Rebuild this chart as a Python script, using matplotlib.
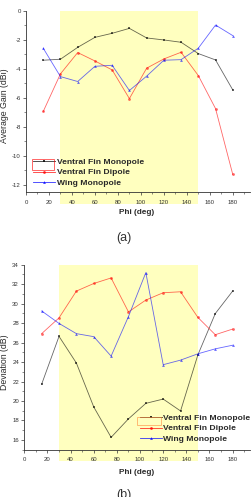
import matplotlib
matplotlib.use("Agg")
import matplotlib.pyplot as plt
from matplotlib.patches import Rectangle
from matplotlib.ticker import MultipleLocator
import matplotlib.transforms as mtransforms

plt.rcParams['font.family'] = ['Liberation Sans', 'DejaVu Sans']
plt.rcParams['axes.unicode_minus'] = False

phi = [15, 30, 45, 60, 75, 90, 105, 120, 135, 150, 165, 180]
labels = ["Ventral Fin Monopole", "Ventral Fin Dipole", "Wing Monopole"]

gain_fin_mono = [-3.40, -3.33, -2.51, -1.82, -1.54, -1.20, -1.86, -2.00, -2.16, -2.94, -3.38, -5.45]
gain_fin_dip = [-6.94, -4.34, -2.87, -3.45, -4.07, -6.05, -3.95, -3.31, -2.85, -4.46, -6.74, -11.29]
gain_wing = [-2.57, -4.53, -4.87, -3.82, -3.75, -5.49, -4.50, -3.40, -3.36, -2.57, -0.97, -1.70]

dev_fin_mono = [21.73, 26.64, 23.90, 19.39, 16.27, 18.17, 19.76, 20.20, 18.98, 24.75, 28.98, 31.29]
dev_fin_dip = [26.92, 28.54, 31.29, 32.07, 32.64, 29.15, 30.37, 31.12, 31.22, 28.58, 26.81, 27.39]
dev_wing = [29.25, 27.97, 26.92, 26.61, 24.61, 28.68, 33.19, 23.73, 24.20, 24.85, 25.36, 25.73]

span = (30, 150)

W, H = 253, 497
fig = plt.figure(figsize=(W / 100, H / 100), dpi=100)


def fx(px):
    return px / W


def fy(py):
    return 1 - py / H


styles = [dict(color='black', marker='s'),
          dict(color='red', marker='o'),
          dict(color='blue', marker='^')]


def make_axes(left, right, top, bottom, ylim, ymaj, ymin_loc, series, ylabel,
              ylabel_xy, xlabel_y, sub, sub_y, leg_px, rect_px, rect_color):
    ax = fig.add_axes([fx(left), fy(bottom), fx(right - left), (bottom - top) / H])
    ax.set_xlim(0, 195)
    ax.set_ylim(*ylim)
    for s in ['top', 'right']:
        ax.spines[s].set_visible(False)
    for s in ['left', 'bottom']:
        ax.spines[s].set_linewidth(0.6)
        ax.spines[s].set_color('#333333')
    ax.xaxis.set_major_locator(MultipleLocator(20))
    ax.xaxis.set_minor_locator(MultipleLocator(10))
    ax.yaxis.set_major_locator(MultipleLocator(ymaj))
    ax.yaxis.set_minor_locator(MultipleLocator(ymin_loc))
    ax.tick_params(which='major', direction='out', length=2.5, width=0.5,
                   labelsize=4.3, colors='#333333', pad=1.3)
    ax.tick_params(which='minor', direction='out', length=1.5, width=0.4, colors='#333333')
    ax.tick_params(axis='x', which='major', pad=3.0)
    # highlighted region, extending slightly below the x-axis
    trans = mtransforms.blended_transform_factory(ax.transData, ax.transAxes)
    ext = 11.5 / (bottom - top)
    ax.add_patch(Rectangle((span[0], -ext), span[1] - span[0], 1 + ext,
                           transform=trans, facecolor='#ffffbf', edgecolor='none',
                           clip_on=False, zorder=0))
    handles = []
    for vals, st, lab in zip(series, styles, labels):
        h, = ax.plot(phi, vals, color=st['color'], lw=0.6, alpha=0.6,
                     marker=st['marker'], markersize=2.0, markeredgewidth=0,
                     label=lab, zorder=3)
        h.set_markerfacecolor(st['color'])
        handles.append(h)
    leg = ax.legend(handles=handles, loc='upper left',
                    bbox_to_anchor=(fx(leg_px[0]), fy(leg_px[1])),
                    bbox_transform=fig.transFigure, frameon=False,
                    prop=dict(size=6.1, weight='semibold'),
                    handlelength=2.6, handletextpad=0.2,
                    labelspacing=0.25, borderpad=0, borderaxespad=0)
    for t in leg.get_texts():
        t.set_color('#2a2a2a')
    for lh in leg.legend_handles:
        lh.set_alpha(0.8)
    fig.patches.append(Rectangle((fx(rect_px[0]), fy(rect_px[3])),
                                 fx(rect_px[2] - rect_px[0]), (rect_px[3] - rect_px[1]) / H,
                                 transform=fig.transFigure, fill=False,
                                 edgecolor=rect_color, lw=0.6, alpha=0.7))
    fig.text(fx(ylabel_xy[0]), fy(ylabel_xy[1]), ylabel, rotation=90,
             ha='center', va='center', fontsize=6.3, color='#2a2a2a')
    fig.text(fx(137), fy(xlabel_y), "Phi (deg)", ha='center', va='center',
             fontsize=5.9, color='#2a2a2a', fontweight='bold')
    fig.text(fx(124), fy(sub_y), sub, ha='center', va='center',
             fontsize=9, color='#333333')
    return ax


make_axes(26, 250, 11, 192, (-12.5, 0), 2, 1,
          [gain_fin_mono, gain_fin_dip, gain_wing],
          "Average Gain (dBi)", (5, 106), 213, "(a)", 238,
          (33, 158.5), (32, 159, 54.5, 169.5), 'red')

make_axes(24.3, 250, 264.7, 449.7, (15, 34), 2, 1,
          [dev_fin_mono, dev_fin_dip, dev_wing],
          "Deviation (dB)", (5, 362), 472, "(b)", 495,
          (139.5, 414.5), (137, 416.5, 161, 424.5), '#ff8c40')

fig.savefig("out.png", dpi=100)
